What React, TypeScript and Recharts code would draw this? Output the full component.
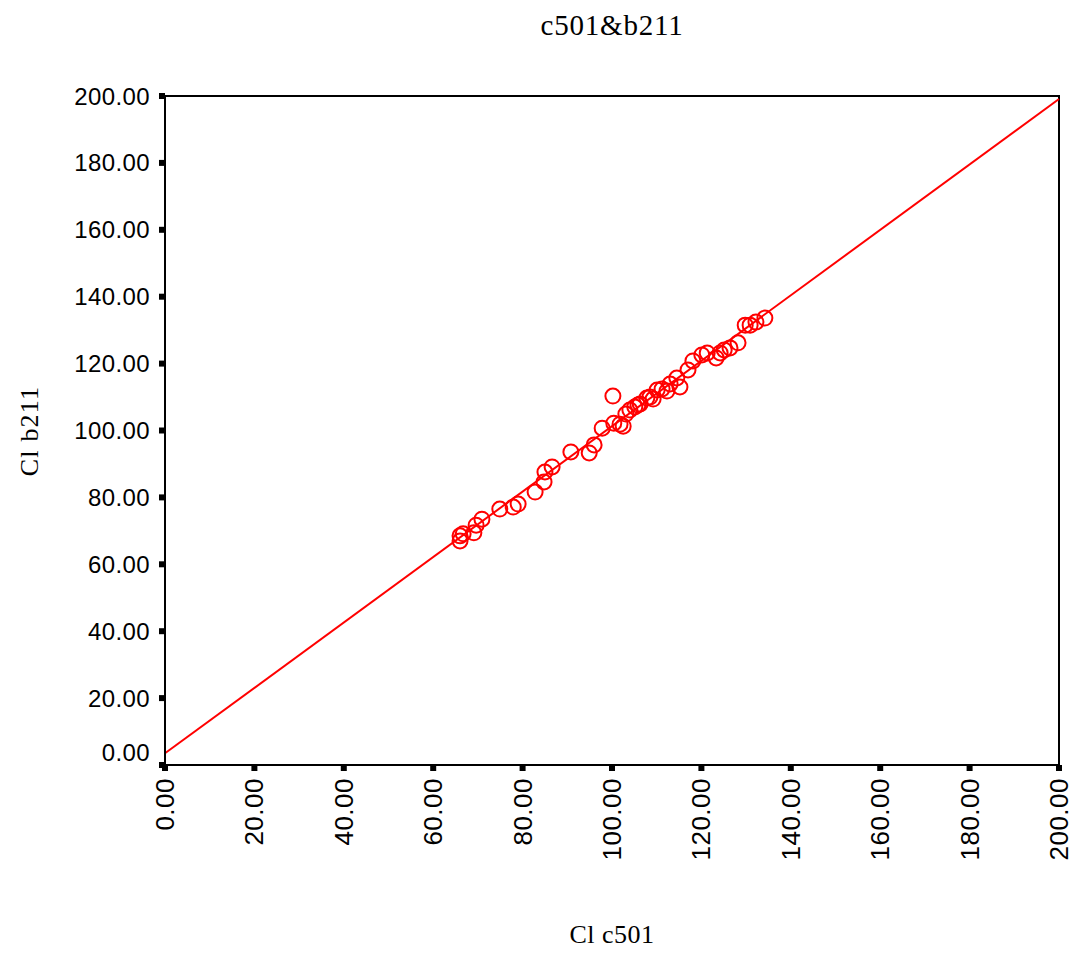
import React from 'react';
import {
  ScatterChart, Scatter, XAxis, YAxis, ReferenceLine, ReferenceArea,
} from 'recharts';

// Cl c501 (x) and Cl b211 (y) values
const c501 = [
  66.0, 66.0, 66.7, 69.1, 69.6, 70.9, 74.9, 77.9, 79.0, 82.8,
  84.8, 85.0, 86.6, 90.8, 94.9, 96.0, 97.8, 100.2, 100.4, 101.8,
  102.5, 103.1, 104.0, 105.1, 105.8, 106.3, 107.8, 108.5, 109.2, 110.1,
  111.2, 112.3, 113.0, 114.5, 115.2, 117.0, 118.1, 120.1, 121.3, 123.3,
  124.2, 125.1, 126.4, 128.2, 129.8, 130.9, 132.2, 134.2,
];
const b211 = [
  67.0, 68.5, 69.1, 69.4, 71.7, 73.5, 76.5, 77.1, 78.0, 81.6,
  84.6, 87.6, 89.1, 93.6, 93.3, 95.7, 100.7, 110.3, 102.2, 101.9,
  101.3, 104.9, 106.1, 107.0, 107.6, 107.9, 109.7, 110.0, 109.4, 112.1,
  112.4, 111.8, 113.9, 115.7, 113.0, 118.1, 120.8, 122.6, 123.2, 121.7,
  123.2, 124.1, 124.7, 126.2, 131.5, 131.5, 132.4, 133.6,
];
const axisTicks = [0, 20, 40, 60, 80, 100, 120, 140, 160, 180, 200];
const fitLine = [3.5, 0.978]; // intercept, slope

const points = c501.map((x, i) => ({ x, y: b211[i] }));

const RED = '#ff0000';
const tickFont = '"Liberation Sans", Arial, sans-serif';
const serif = '"Liberation Serif", "Times New Roman", serif';

const YTick = (props: any) => {
  const { x, y, payload } = props;
  const shift = payload.value === 0 ? -13 : 0;
  return (
    <text x={x - 7} y={y + shift} textAnchor="end" dominantBaseline="central"
      fontFamily={tickFont} fontSize={24} letterSpacing={0.4} fill="#000">
      {payload.value.toFixed(2)}
    </text>
  );
};

const XTick = (props: any) => {
  const { x, y, payload } = props;
  return (
    <text x={x} y={y + 5} textAnchor="end" dominantBaseline="central"
      transform={`rotate(-90, ${x}, ${y + 5})`}
      fontFamily={tickFont} fontSize={26} letterSpacing={0.5} fill="#000">
      {payload.value.toFixed(2)}
    </text>
  );
};

const Ring = (props: any) => (
  <circle cx={props.cx} cy={props.cy} r={7.5} fill="none" stroke={RED} strokeWidth={2} />
);

export default function App() {
  return (
    <div style={{ position: 'absolute', left: 0, top: 0, width: 1079, height: 956, background: '#fff' }}>
      <ScatterChart width={1079} height={956} margin={{ top: 96, right: 20, bottom: 0, left: 0 }}>
        <XAxis type="number" dataKey="x" domain={[0, 200]} ticks={axisTicks} interval={0}
          height={191} axisLine={{ stroke: '#000', strokeWidth: 2 }}
          tickLine={{ stroke: '#000', strokeWidth: 6 }} tickSize={6} tick={<XTick />} />
        <YAxis type="number" dataKey="y" domain={[0, 200]} ticks={axisTicks} interval={0}
          width={165} axisLine={{ stroke: '#000', strokeWidth: 2 }}
          tickLine={{ stroke: '#000', strokeWidth: 6 }} tickSize={6} tick={<YTick />} />
        <ReferenceArea x1={0} x2={200} y1={0} y2={200} fill="none" stroke="#000" strokeWidth={2} />
        <ReferenceLine
          segment={[{ x: 0, y: fitLine[0] }, { x: 200, y: fitLine[0] + fitLine[1] * 200 }]}
          stroke={RED} strokeWidth={2} />
        <Scatter data={points} shape={<Ring />} isAnimationActive={false} />
      </ScatterChart>
      <div style={{ position: 'absolute', left: 165, width: 894, top: 9, textAlign: 'center',
        fontFamily: serif, fontSize: 29, letterSpacing: 0.8 }}>c501&amp;b211</div>
      <div style={{ position: 'absolute', left: 165, width: 894, top: 920, textAlign: 'center',
        fontFamily: serif, fontSize: 26, letterSpacing: 0.5 }}>Cl c501</div>
      <div style={{ position: 'absolute', left: 30, top: 432, width: 0, height: 0 }}>
        <div style={{ position: 'absolute', left: -100, top: -16, width: 200, textAlign: 'center',
          transform: 'rotate(-90deg)', fontFamily: serif, fontSize: 26, letterSpacing: 1.2,
          whiteSpace: 'nowrap' }}>Cl b211</div>
      </div>
    </div>
  );
}
